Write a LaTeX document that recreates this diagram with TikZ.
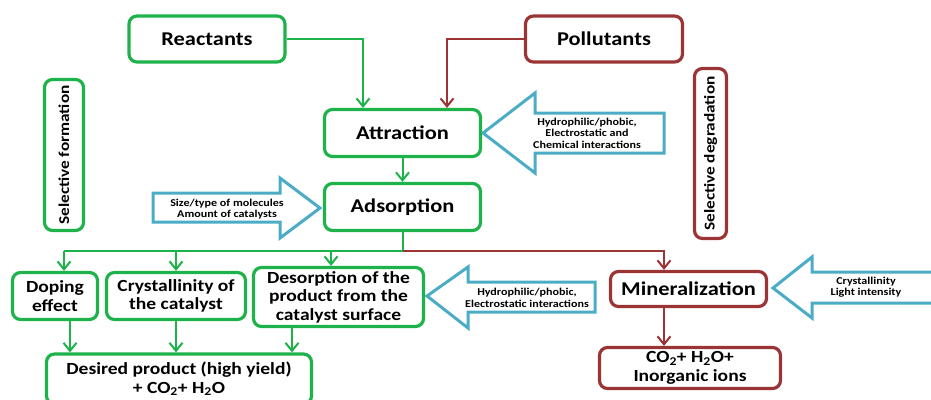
\documentclass[tikz,border=0pt]{standalone}
\usepackage{fontspec}
\setmainfont{Carlito}[FakeStretch=1.15]
\usetikzlibrary{arrows.meta,positioning}
\definecolor{FormGreen}{HTML}{1DB34A}
\definecolor{DegRed}{HTML}{9B3434}
\definecolor{HintBlue}{HTML}{4BACC6}

\begin{document}
\begin{tikzpicture}[x=1pt, y=-1pt,
  stage/.style={draw=#1, line width=3.2pt, rounded corners=8pt, fill=white,
    align=center, inner sep=2pt, font=\bfseries\fontsize{19.5}{22}\selectfont},
  stage/.default=FormGreen,
  substage/.style={stage=#1, font=\bfseries\fontsize{17}{18.5}\selectfont},
  substage/.default=FormGreen,
  sidelabel/.style={stage=#1, rotate=90, font=\bfseries\fontsize{15}{18}\selectfont},
  hint/.style={draw=HintBlue, line width=3pt, fill=white, line join=miter},
  hinttext/.style={align=center, inner sep=0pt, font=\bfseries\fontsize{10.5}{11.5}\selectfont},
  flow/.style={-{Straight Barb[length=8pt, width=13pt]}, line width=2pt, draw=FormGreen},
  degflow/.style={flow, draw=DegRed},
  bus/.style={line width=2pt, draw=FormGreen}
]
\useasboundingbox (0,0) rectangle (931,399);

% influencing factors (block arrows)
\draw[hint] (483,133) -- (535,93) -- (535,113) -- (664,113) -- (664,153)
  -- (535,153) -- (535,173) -- cycle;
\node[hinttext] (attrfac) at (587,133)
  {Hydrophilic/phobic,\\Electrostatic and\\Chemical interactions};
\draw[hint] (320,208) -- (280,178) -- (280,193) -- (153,193) -- (153,222)
  -- (280,222) -- (280,238) -- cycle;
\node[hinttext] (adsfac) at (227,209) {Size/type of molecules\\Amount of catalysts};
\draw[hint] (427,296) -- (468,267) -- (468,282) -- (595,282) -- (595,312)
  -- (468,312) -- (468,328) -- cycle;
\node[hinttext] (desfac) at (527,298)
  {Hydrophilic/phobic,\\Electrostatic interactions};
\draw[hint] (773,288) -- (812,257) -- (812,272) -- (940,272) -- (940,303)
  -- (812,303) -- (812,318) -- cycle;
\node[hinttext] (minfac) at (866,287) {Crystallinity\\Light intensity};

% main stages
\node[stage, minimum width=156pt, minimum height=46pt] (react) at (207,39) {Reactants};
\node[stage=DegRed, minimum width=157pt, minimum height=46pt] (poll) at (604,39) {Pollutants};
\node[stage, minimum width=156pt, minimum height=47pt] (attr) at (402.5,133) {Attraction};
\node[stage, minimum width=156pt, minimum height=47pt] (ads) at (402.5,207) {Adsorption};
\node[sidelabel=FormGreen, minimum width=151pt, minimum height=39pt] (selform) at (64,155)
  {Selective formation};
\node[sidelabel=DegRed, minimum width=170pt, minimum height=32pt] (seldeg) at (710.5,153.5)
  {Selective degradation};

% products side
\node[substage, minimum width=85pt, minimum height=47pt] (dop) at (55,296) {Doping\\effect};
\node[substage, minimum width=139pt, minimum height=47pt] (cryst) at (176,296)
  {Crystallinity of\\the catalyst};
\node[substage, minimum width=170pt, minimum height=59pt] (desorp) at (338.5,297)
  {Desorption of the\\product from the\\catalyst surface};
\node[substage, minimum width=265pt, minimum height=50pt] (desired) at (179,379)
  {Desired product (high yield)\\+ CO\textsubscript{2}+ H\textsubscript{2}O};

% degradation side
\node[stage=DegRed, minimum width=156pt, minimum height=35pt] (mine) at (688.5,289)
  {Mineralization};
\node[substage=DegRed, minimum width=181pt, minimum height=41pt] (co2) at (690,368)
  {CO\textsubscript{2}+ H\textsubscript{2}O+\\Inorganic ions};

% connectors
\coordinate (split) at (402.5,251);
\coordinate (busL) at (64,251);
\draw[flow] (react.east) -| ([xshift=-39.5pt]attr.north);
\draw[degflow] (poll.west) -| ([xshift=44.5pt]attr.north);
\draw[flow] (attr) -- (ads);
\draw[bus] (ads.south) |- (busL);
\draw[flow] (busL) -- (busL |- dop.north);
\draw[flow] (busL -| cryst.north) -- (cryst.north);
\draw[flow] ([xshift=-7.5pt]desorp.north |- busL) -- ([xshift=-7.5pt]desorp.north);
\draw[degflow] (split) -| ([xshift=-24.5pt]mine.north);
\draw[degflow] ([xshift=-24.5pt]mine.south) -- ([xshift=-24.5pt]mine.south |- co2.north);
\draw[flow] ([xshift=15pt]dop.south) -- ([xshift=15pt]dop.south |- desired.north);
\draw[flow] (cryst.south) -- (cryst.south |- desired.north);
\draw[flow] ([xshift=-46.5pt]desorp.south) -- ([xshift=-46.5pt]desorp.south |- desired.north);
\end{tikzpicture}
\end{document}
